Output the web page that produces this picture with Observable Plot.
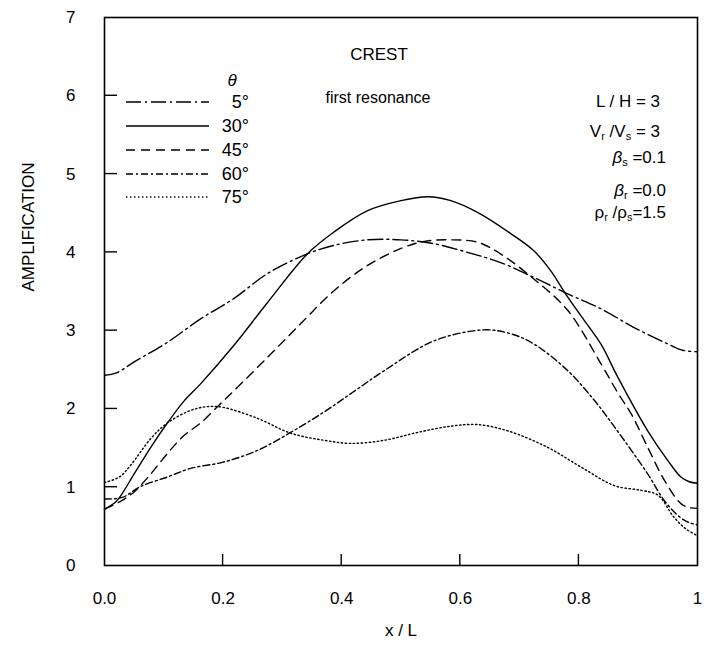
<!DOCTYPE html>
<html><head><meta charset="utf-8">
<script src="https://cdn.jsdelivr.net/npm/d3@7"></script>
<script src="https://cdn.jsdelivr.net/npm/@observablehq/plot@0.6"></script>
<style>body{margin:0;background:#fff} svg{display:block}</style>
</head><body><div id="chart"></div>
<script>
// ---- data ----
const angles = ["5°", "30°", "45°", "60°", "75°"];

const x5  = [0, 0.02, 0.05, 0.106, 0.162, 0.218, 0.275, 0.342, 0.387, 0.443, 0.5, 0.556, 0.612, 0.668, 0.724, 0.781, 0.837, 0.893, 0.95, 0.975, 1.0];
const y5  = [2.43, 2.46, 2.6, 2.85, 3.15, 3.41, 3.73, 3.98, 4.09, 4.16, 4.16, 4.11, 4.0, 3.87, 3.68, 3.47, 3.28, 3.04, 2.83, 2.75, 2.73];

const x30 = [0, 0.02, 0.05, 0.078, 0.106, 0.134, 0.162, 0.218, 0.275, 0.342, 0.387, 0.443, 0.5, 0.545, 0.584, 0.629, 0.685, 0.724, 0.752, 0.781, 0.809, 0.837, 0.866, 0.916, 0.95, 0.972, 0.986, 1.0];
const y30 = [0.72, 0.82, 1.17, 1.51, 1.82, 2.1, 2.32, 2.81, 3.36, 3.98, 4.26, 4.53, 4.66, 4.71, 4.66, 4.51, 4.24, 4.02, 3.77, 3.43, 3.13, 2.83, 2.4, 1.72, 1.34, 1.13, 1.07, 1.05];

const x45 = [0, 0.027, 0.05, 0.078, 0.106, 0.134, 0.162, 0.196, 0.218, 0.275, 0.331, 0.387, 0.443, 0.5, 0.539, 0.584, 0.629, 0.668, 0.724, 0.781, 0.837, 0.866, 0.888, 0.916, 0.944, 0.972, 0.986, 1.0];
const y45 = [0.72, 0.82, 0.94, 1.17, 1.43, 1.66, 1.82, 2.07, 2.23, 2.66, 3.09, 3.51, 3.83, 4.05, 4.14, 4.16, 4.13, 3.98, 3.66, 3.26, 2.58, 2.2, 1.94, 1.51, 1.09, 0.79, 0.74, 0.73];

const x60 = [0, 0.03, 0.061, 0.106, 0.145, 0.2, 0.258, 0.314, 0.37, 0.42, 0.472, 0.556, 0.64, 0.685, 0.724, 0.781, 0.826, 0.86, 0.916, 0.944, 0.97, 0.985, 1.0];
const y60 = [0.85, 0.87, 1.01, 1.13, 1.24, 1.32, 1.47, 1.70, 1.96, 2.22, 2.49, 2.87, 3.01, 2.96, 2.83, 2.49, 2.11, 1.77, 1.17, 0.83, 0.62, 0.55, 0.52];

const x75 = [0, 0.025, 0.044, 0.078, 0.106, 0.145, 0.174, 0.2, 0.258, 0.314, 0.37, 0.415, 0.472, 0.528, 0.584, 0.629, 0.68, 0.747, 0.803, 0.86, 0.905, 0.933, 0.96, 0.98, 1.0];
const y75 = [1.06, 1.13, 1.28, 1.62, 1.82, 1.98, 2.03, 2.02, 1.88, 1.69, 1.6, 1.56, 1.6, 1.7, 1.78, 1.8, 1.72, 1.51, 1.26, 1.02, 0.96, 0.9, 0.62, 0.47, 0.38];

const xTicks = [0, 0.2, 0.4, 0.6, 0.8, 1];
const xTickLabels = ["0.0", "0.2", "0.4", "0.6", "0.8", "1"];
const yTicks = [0, 1, 2, 3, 4, 5, 6, 7];
const yTickLabels = ["0", "1", "2", "3", "4", "5", "6", "7"];

const legendTitle = "θ";
const title = "CREST";
const subtitle = "first resonance";
const xLabel = "x / L";
const yLabel = "AMPLIFICATION";

// ---- build ----
const seriesX = [x5, x30, x45, x60, x75];
const seriesY = [y5, y30, y45, y60, y75];
const series = angles.map((a, i) => ({
  angle: a,
  points: seriesX[i].map((x, j) => ({x, y: seriesY[i][j], angle: a}))
}));
const dashes = {"5°": "15,4,2,4", "30°": null, "45°": "9,6", "60°": "7,3,2,3", "75°": "1.4,2.6"};

const font = "'Liberation Sans', Arial, Helvetica, sans-serif";

const chart = Plot.plot({
  width: 706, height: 650,
  marginLeft: 104, marginRight: 9, marginTop: 17, marginBottom: 85,
  x: {domain: [0, 1]},
  y: {domain: [0, 7]},
  style: {fontFamily: font, fontSize: "17px", color: "black", background: "white"},
  marks: [
    ...series.map(s => Plot.line(s.points, {
      x: "x", y: "y", curve: "catmull-rom", stroke: "black",
      strokeWidth: 1.4, strokeDasharray: dashes[s.angle]
    })),
    Plot.frame({stroke: "black", strokeWidth: 1.6}),
    Plot.axisX(xTicks, {tickSize: 0, tickPadding: 26, tickFormat: d => xTickLabels[xTicks.indexOf(d)], label: null, fontSize: 17}),
    Plot.axisY(yTicks, {tickSize: 0, tickPadding: 29, tickFormat: d => yTickLabels[yTicks.indexOf(d)], label: null, fontSize: 17}),
    Plot.text([yLabel], {frameAnchor: "left", dx: -76, rotate: -90, fontSize: 17}),
    Plot.text([xLabel], {frameAnchor: "bottom", dy: 70, fontSize: 17}),
    Plot.text([title], {frameAnchor: "top", dx: -22, dy: 30, fontSize: 17}),
    Plot.text([subtitle], {frameAnchor: "top", dx: -23, dy: 74, fontSize: 16})
  ]
});
document.getElementById("chart").appendChild(chart);

// ---- inward ticks, from the plot's own scales ----
const svg = d3.select(chart);
const sx = chart.scale("x"), sy = chart.scale("y");
const x0px = sx.apply(0), y0px = sy.apply(0);
const tg = svg.append("g").attr("stroke", "black").attr("stroke-width", 1.4);
yTicks.slice(1, -1).forEach(v => {
  tg.append("line").attr("x1", x0px).attr("x2", x0px + 13).attr("y1", sy.apply(v)).attr("y2", sy.apply(v));
});
xTicks.slice(1, -1).forEach(v => {
  tg.append("line").attr("x1", sx.apply(v)).attr("x2", sx.apply(v)).attr("y1", y0px).attr("y2", y0px - 11);
});

// ---- legend & parameter annotations ----
const g = svg.append("g").attr("font-family", font).attr("fill", "black");

g.append("text").attr("x", 232).attr("y", 80).attr("text-anchor", "middle")
  .attr("dominant-baseline", "central").attr("font-style", "italic").attr("font-size", 17).text(legendTitle);
const rowY = [102, 126, 150, 174, 197];
angles.forEach((a, i) => {
  g.append("line").attr("x1", 126).attr("x2", 209).attr("y1", rowY[i]).attr("y2", rowY[i])
    .attr("stroke", "black").attr("stroke-width", 1.4)
    .attr("stroke-dasharray", dashes[a]);
  g.append("text").attr("x", 249).attr("y", rowY[i] + 6).attr("text-anchor", "end")
    .attr("font-size", 18).text(a);
});

function param(x, y, parts) {
  const t = g.append("text").attr("x", x).attr("y", y).attr("text-anchor", "end").attr("font-size", 17);
  parts.forEach(p => {
    const ts = t.append("tspan").text(p.t);
    if (p.sub) ts.attr("font-size", 11).attr("dy", 3);
    if (p.after) ts.attr("dy", -3);
    if (p.it) ts.attr("font-style", "italic");
  });
}
param(660, 107, [{t: "L / H = 3"}]);
param(660, 137, [{t: "V"}, {t: "r", sub: 1}, {t: " /V", after: 1}, {t: "s", sub: 1}, {t: " = 3", after: 1}]);
param(666, 163, [{t: "β", it: 1}, {t: "s", sub: 1}, {t: " =0.1", after: 1}]);
param(666, 196, [{t: "β", it: 1}, {t: "r", sub: 1}, {t: " =0.0", after: 1}]);
param(666, 218, [{t: "ρ"}, {t: "r", sub: 1}, {t: " /ρ", after: 1}, {t: "s", sub: 1}, {t: "=1.5", after: 1}]);
</script>
</body></html>
